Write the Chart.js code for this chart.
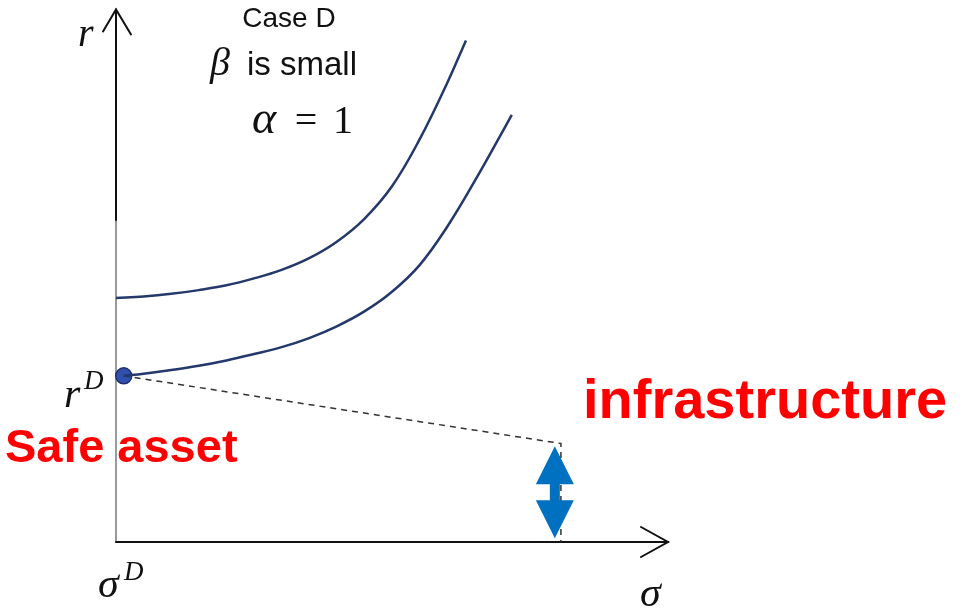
<!DOCTYPE html>
<html>
<head>
<meta charset="utf-8">
<script src="https://cdn.jsdelivr.net/npm/chart.js@4.4.1/dist/chart.umd.min.js"></script>
<style>
  body { margin: 0; background: #fff; }
  #wrap { width: 961px; height: 613px; }
</style>
</head>
<body>
<div id="wrap"><canvas id="myChart" width="961" height="613"></canvas></div>
<script>
// sigma / r values of the two curves (sigma on x, r on y)
const upperSigma = [0, 0.5, 1, 1.5, 2, 2.5, 3, 3.5, 4, 4.5, 5, 5.5, 6, 6.34];
const upperR     = [4.58, 4.61, 4.66, 4.73, 4.82, 4.95, 5.11, 5.33, 5.64, 6.07, 6.68, 7.56, 8.62, 9.42];
const lowerSigma = [0.14, 0.5, 1, 1.5, 2, 2.5, 3, 3.5, 4, 4.5, 5, 5.5, 6, 6.5, 7, 7.17];
const lowerR     = [3.12, 3.16, 3.23, 3.31, 3.41, 3.53, 3.66, 3.83, 4.05, 4.33, 4.70, 5.20, 5.92, 6.78, 7.70, 8.02];

// safe asset point and the infrastructure line
const safePoint = { x: 0.14, y: 3.12 };
const infraSigma = [0.14, 8.06, 8.06];
const infraR     = [3.12, 1.85, 0];

// double arrow (spread) at sigma = 7.95, from r = 0 to r = 1.85
const spread = { x: 7.95, from: 0.07, to: 1.8 };

const toPoints = (xs, ys) => xs.map((x, i) => ({ x: x, y: ys[i] }));

const navy = '#24386b';

const axesAndText = {
  id: 'axesAndText',
  beforeDatasetsDraw(chart) {
    const { ctx, scales } = chart;
    const x0 = scales.x.getPixelForValue(0);
    const y0 = scales.y.getPixelForValue(0);
    const xMax = scales.x.getPixelForValue(10);
    const yMax = scales.y.getPixelForValue(10);
    ctx.save();
    ctx.lineCap = 'round';
    // y axis: grey lower part, black upper part
    ctx.lineWidth = 2;
    ctx.strokeStyle = '#9a9a9a';
    ctx.beginPath(); ctx.moveTo(x0, y0); ctx.lineTo(x0, 220); ctx.stroke();
    ctx.strokeStyle = '#111';
    ctx.beginPath(); ctx.moveTo(x0, 220); ctx.lineTo(x0, yMax); ctx.stroke();
    ctx.beginPath();
    ctx.moveTo(x0 - 13, yMax + 22); ctx.lineTo(x0, yMax); ctx.lineTo(x0 + 15, yMax + 25);
    ctx.stroke();
    // x axis
    ctx.beginPath(); ctx.moveTo(x0, y0); ctx.lineTo(xMax, y0); ctx.stroke();
    ctx.beginPath();
    ctx.moveTo(xMax - 27, y0 - 15); ctx.lineTo(xMax, y0); ctx.lineTo(xMax - 27, y0 + 15);
    ctx.stroke();
    ctx.restore();
  },
  afterDatasetsDraw(chart) {
    const { ctx, scales } = chart;
    ctx.save();

    // spread arrow
    const cx = scales.x.getPixelForValue(spread.x);
    const top = scales.y.getPixelForValue(spread.to);
    const bot = scales.y.getPixelForValue(spread.from);
    const hw = 19, hl = 38, sw = 5;
    ctx.fillStyle = '#0070c0';
    ctx.beginPath();
    ctx.moveTo(cx, top);
    ctx.lineTo(cx + hw, top + hl);
    ctx.lineTo(cx + sw, top + hl);
    ctx.lineTo(cx + sw, bot - hl);
    ctx.lineTo(cx + hw, bot - hl);
    ctx.lineTo(cx, bot);
    ctx.lineTo(cx - hw, bot - hl);
    ctx.lineTo(cx - sw, bot - hl);
    ctx.lineTo(cx - sw, top + hl);
    ctx.lineTo(cx - hw, top + hl);
    ctx.closePath();
    ctx.fill();

    // labels
    const serifI = s => 'italic ' + s + 'px "Liberation Serif", serif';
    const serif = s => s + 'px "Liberation Serif", serif';
    const sans = s => s + 'px "Liberation Sans", Arial, sans-serif';
    ctx.fillStyle = '#111';
    ctx.textBaseline = 'alphabetic';
    ctx.textAlign = 'left';

    ctx.font = serifI(40);
    ctx.fillText('r', 78, 46);

    ctx.font = sans(28);
    ctx.textAlign = 'center';
    ctx.fillText('Case D', 289, 27);

    ctx.textAlign = 'left';
    ctx.font = serifI(40);
    ctx.fillText('\u03B2', 210, 75);
    ctx.font = sans(33);
    ctx.fillText('is small', 247, 75);

    ctx.font = serifI(46);
    ctx.fillText('\u03B1', 252, 133);
    ctx.font = serif(40);
    ctx.textAlign = 'center';
    ctx.fillText('=', 306, 133);
    ctx.fillText('1', 343, 133);

    ctx.textAlign = 'left';
    ctx.font = serifI(42);
    ctx.fillText('r', 64, 407);
    ctx.font = serifI(27);
    ctx.fillText('D', 84, 389);

    ctx.font = serifI(42);
    ctx.fillText('\u03C3', 98, 597);
    ctx.font = serifI(27);
    ctx.fillText('D', 124, 580);

    ctx.font = serifI(42);
    ctx.fillText('\u03C3', 640, 606);

    ctx.fillStyle = '#ff0000';
    ctx.font = 'bold ' + sans(47);
    ctx.fillText('Safe asset', 5, 462);
    ctx.font = 'bold ' + sans(56);
    ctx.fillText('infrastructure', 583, 418);

    ctx.restore();
  }
};

new Chart(document.getElementById('myChart'), {
  type: 'scatter',
  data: {
    datasets: [
      {
        data: toPoints(upperSigma, upperR),
        showLine: true,
        borderColor: navy,
        borderWidth: 2.5,
        pointRadius: 0,
        tension: 0.4,
        clip: false
      },
      {
        data: toPoints(lowerSigma, lowerR),
        showLine: true,
        borderColor: navy,
        borderWidth: 2.5,
        pointRadius: 0,
        tension: 0.4,
        clip: false
      },
      {
        data: toPoints(infraSigma, infraR),
        showLine: true,
        borderColor: '#333',
        borderWidth: 1.5,
        borderDash: [6, 5],
        pointRadius: 0,
        tension: 0,
        clip: false
      },
      {
        data: [safePoint],
        pointRadius: 8,
        pointBackgroundColor: '#3050b0',
        pointBorderColor: '#1f2f6b',
        pointBorderWidth: 1.5,
        clip: false
      }
    ]
  },
  options: {
    responsive: false,
    maintainAspectRatio: false,
    animation: false,
    layout: { padding: { left: 116, right: 293, top: 7, bottom: 71 } },
    plugins: { legend: { display: false }, tooltip: { enabled: false } },
    scales: {
      x: { type: 'linear', min: 0, max: 10, display: false },
      y: { type: 'linear', min: 0, max: 10, display: false }
    }
  },
  plugins: [axesAndText]
});
</script>
</body>
</html>
